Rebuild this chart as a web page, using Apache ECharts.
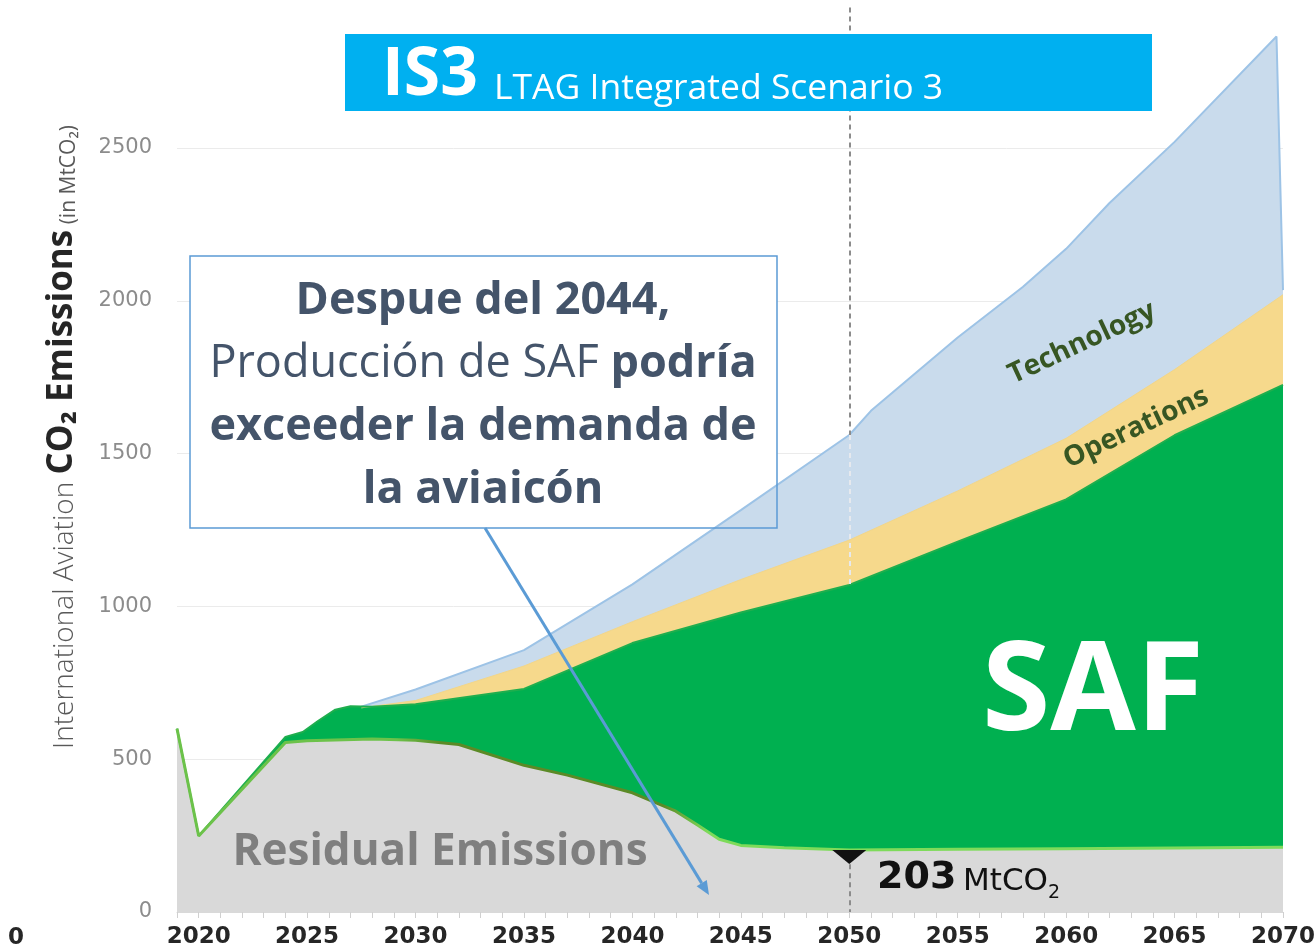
<!DOCTYPE html>
<html>
<head>
<meta charset="utf-8">
<title>IS3 LTAG Integrated Scenario 3</title>
<script src="https://cdn.jsdelivr.net/npm/echarts@6/dist/echarts.min.js"></script>
<style>
  html, body { margin: 0; padding: 0; background: #fff; }
  #chart { width: 1315px; height: 950px; }
</style>
</head>
<body>
<div id="chart"></div>
<script>
// valores, en MtCO2 (borde superior de cada capa)
var techYears = [2027.5, 2030, 2035, 2040, 2045, 2050, 2051, 2055, 2058, 2060, 2062, 2065, 2069.7, 2070];
var techTop   = [672, 728, 857, 1072, 1315, 1561, 1640, 1880, 2045, 2170, 2320, 2520, 2865, 2035];

var opsYears = [2027.5, 2030, 2035, 2040, 2045, 2050, 2055, 2060, 2065, 2070];
var opsTop   = [668, 692, 805, 950, 1088, 1217, 1378, 1550, 1775, 2020];

var safYears = [2019, 2020, 2024, 2024.8, 2025.5, 2026.3, 2027, 2028, 2030, 2035, 2040, 2045, 2050, 2055, 2060, 2065, 2070];
var safTop   = [600, 249, 573, 589, 625, 662, 673, 672, 680, 730, 880, 980, 1070, 1212, 1350, 1560, 1725];

var resYears = [2019, 2020, 2024, 2025, 2028, 2030, 2032, 2035, 2037, 2040, 2042, 2043, 2044, 2045, 2047, 2050, 2055, 2060, 2070];
var resVals  = [600, 249, 555, 560, 566, 562, 548, 480, 448, 390, 330, 285, 238, 218, 210, 203, 205, 207, 212];

var yTicks = [0, 500, 1000, 1500, 2000, 2500];
var xLabelYears = [2020, 2025, 2030, 2035, 2040, 2045, 2050, 2055, 2060, 2065, 2070];

function pairs(xs, ys) {
	return xs.map(function (x, i) { return [x, ys[i]]; });
}

var myChart = echarts.init(document.getElementById('chart'));

var dash = { type: [5, 4], width: 2, color: '#8c8c8c' };

option = {
	animation: false,
	grid: {
		left: 177,
		right: 32,
		top: -4.8,
		bottom: 38,
		outerBoundsMode: 'none'
	},
	xAxis: {
		type: 'value',
		min: 2019,
		max: 2070,
		interval: 1,
		axisLine: { show: true, onZero: false, lineStyle: { color: '#d9d9d9', width: 1 } },
		axisTick: { show: true, length: 6, lineStyle: { color: '#d0d0d0' } },
		splitLine: { show: false },
		axisLabel: {
			margin: 14,
			fontFamily: 'DejaVu Sans',
			fontWeight: 'bold',
			fontSize: 23,
			color: '#262626',
			formatter: function (v) {
				return xLabelYears.indexOf(v) >= 0 ? String(v) : '';
			}
		}
	},
	yAxis: {
		type: 'value',
		min: 0,
		max: 3000,
		interval: 500,
		axisLine: { show: false },
		axisTick: { show: false },
		splitLine: { lineStyle: { color: '#ebebeb', width: 1 } },
		axisLabel: {
			margin: 25,
			fontFamily: 'DejaVu Sans',
			fontSize: 21,
			color: '#8c8c8c',
			formatter: function (v) {
				return yTicks.indexOf(v) >= 0 ? String(v) : '';
			}
		}
	},
	series: [
		{
			name: 'Technology',
			type: 'line',
			symbol: 'none',
			data: pairs(techYears, techTop),
			lineStyle: { color: '#9dc3e6', width: 2 },
			areaStyle: { color: '#c9dbec', opacity: 1 },
			markLine: {
				silent: true,
				symbol: ['none', 'none'],
				label: { show: false },
				lineStyle: dash,
				data: [
					[{ coord: [2050, 2960] }, { coord: [2050, 1561] }],
					[{ coord: [2050, 1561], lineStyle: { color: '#e6e9ee' } }, { coord: [2050, 1070] }]
				]
			}
		},
		{
			name: 'Operations',
			type: 'line',
			symbol: 'none',
			data: pairs(opsYears, opsTop),
			lineStyle: { color: '#f2d68a', width: 1 },
			areaStyle: { color: '#f6d98c', opacity: 1 }
		},
		{
			name: 'SAF',
			type: 'line',
			symbol: 'none',
			data: pairs(safYears, safTop),
			lineStyle: { color: '#1fae4e', width: 2 },
			areaStyle: { color: '#00b050', opacity: 1 }
		},
		{
			name: 'Residual Emissions',
			type: 'line',
			symbol: 'none',
			data: pairs(resYears, resVals),
			lineStyle: {
				width: 3,
				color: new echarts.graphic.LinearGradient(0, 0, 1, 0, [
					{ offset: 0, color: '#6cc24a' },
					{ offset: 0.2, color: '#6cc24a' },
					{ offset: 0.24, color: '#5b8a26' },
					{ offset: 0.44, color: '#5b8a26' },
					{ offset: 0.48, color: '#7edb5a' },
					{ offset: 1, color: '#7edb5a' }
				])
			},
			areaStyle: { color: '#d9d9d9', opacity: 1 },
			markLine: {
				silent: true,
				symbol: ['none', 'none'],
				label: { show: false },
				lineStyle: dash,
				data: [
					[{ coord: [2050, 186] }, { coord: [2050, 0] }]
				]
			},
			markPoint: {
				silent: true,
				symbol: 'triangle',
				symbolRotate: 180,
				symbolSize: [34, 14],
				symbolOffset: [0, 7],
				itemStyle: { color: '#111' },
				label: { show: false },
				data: [{ coord: [2050, 203] }]
			}
		}
	],
	graphic: [
		// cuadro del título
		{ type: 'rect', z: 10, shape: { x: 345, y: 34, width: 807, height: 77 }, style: { fill: '#00b0f0' } },
		{ type: 'text', z: 11, x: 382, y: 76,
			style: { text: 'IS3', fontFamily: 'Open Sans', fontWeight: 'bold', fontSize: 66, fill: '#ffffff',
				align: 'left', verticalAlign: 'middle' } },
		{ type: 'text', z: 11, x: 494, y: 89,
			style: { text: 'LTAG Integrated Scenario 3', fontFamily: 'Open Sans', fontSize: 35.5, fill: '#ffffff',
				align: 'left', verticalAlign: 'middle' } },

		// título del eje Y
		{ type: 'text', z: 10, x: 62, y: 437, rotation: Math.PI / 2,
			style: {
				text: '{a|International Aviation }{b|CO₂ Emissions}{c| (in MtCO₂)}',
				align: 'center', verticalAlign: 'middle',
				rich: {
					a: { fontFamily: 'Open Sans', fontWeight: 300, fontSize: 28, fill: '#595959', verticalAlign: 'bottom' },
					b: { fontFamily: 'Open Sans', fontWeight: 'bold', fontSize: 35, fill: '#262626', verticalAlign: 'bottom' },
					c: { fontFamily: 'Open Sans', fontSize: 21, fill: '#595959', verticalAlign: 'bottom' }
				}
			} },

		// recuadro de comentario (fondo detrás de las áreas, borde delante)
		{ type: 'rect', z: 1, shape: { x: 190, y: 256, width: 587, height: 272 }, style: { fill: '#ffffff' } },
		{ type: 'rect', z: 20, shape: { x: 190, y: 256, width: 587, height: 272 },
			style: { fill: 'none', stroke: '#5b9bd5', lineWidth: 1.5 } },
		{ type: 'text', z: 21, x: 483, y: 396,
			style: {
				text: '{b|Despue del 2044,}\n{r|Producción de SAF }{b|podría}\n{b|exceeder la demanda de}\n{b|la aviaicón}',
				align: 'center', verticalAlign: 'middle',
				rich: {
					b: { fontFamily: 'Open Sans', fontWeight: 'bold', fontSize: 45, lineHeight: 63, fill: '#44546a' },
					r: { fontFamily: 'Open Sans', fontSize: 45, lineHeight: 63, fill: '#44546a' }
				}
			} },
		// flecha
		{ type: 'line', z: 21, shape: { x1: 485, y1: 528, x2: 701.7, y2: 883.1 },
			style: { stroke: '#5b9bd5', lineWidth: 3 } },
		{ type: 'polygon', z: 21, shape: { points: [[709, 895], [696.6, 886.2], [706.8, 880.0]] },
			style: { fill: '#5b9bd5' } },

		// etiquetas de las áreas
		{ type: 'text', z: 12, x: 1082, y: 343, rotation: 25 * Math.PI / 180,
			style: { text: 'Technology', fontFamily: 'Open Sans', fontWeight: 'bold', fontSize: 28, fill: '#375623',
				align: 'center', verticalAlign: 'middle' } },
		{ type: 'text', z: 12, x: 1136, y: 428, rotation: 25 * Math.PI / 180,
			style: { text: 'Operations', fontFamily: 'Open Sans', fontWeight: 'bold', fontSize: 28, fill: '#375623',
				align: 'center', verticalAlign: 'middle' } },
		{ type: 'text', z: 12, x: 1093, y: 695,
			style: { text: 'SAF', fontFamily: 'Open Sans', fontWeight: 'bold', fontSize: 124, fill: '#ffffff',
				align: 'center', verticalAlign: 'middle' } },
		{ type: 'text', z: 12, x: 440, y: 852,
			style: { text: 'Residual Emissions', fontFamily: 'Open Sans', fontWeight: 'bold', fontSize: 44, fill: '#7f7f7f',
				align: 'center', verticalAlign: 'middle' } },
		{ type: 'text', z: 12, x: 877, y: 878,
			style: {
				text: '{a|203}  {b|MtCO}{s|2}',
				align: 'left', verticalAlign: 'middle',
				rich: {
					a: { fontFamily: 'DejaVu Sans', fontWeight: 'bold', fontSize: 38, fill: '#111', verticalAlign: 'bottom' },
					b: { fontFamily: 'DejaVu Sans', fontSize: 31, fill: '#111', verticalAlign: 'bottom' },
					s: { fontFamily: 'DejaVu Sans', fontSize: 19, fill: '#111', verticalAlign: 'bottom', padding: [0, 0, -6, 0] }
				}
			} },
		// resto de etiqueta cortada en el borde izquierdo
		{ type: 'text', z: 12, x: 8, y: 938,
			style: { text: '0', fontFamily: 'DejaVu Sans', fontWeight: 'bold', fontSize: 23, fill: '#262626',
				align: 'left', verticalAlign: 'middle' } }
	]
};

myChart.setOption(option);
</script>
</body>
</html>
